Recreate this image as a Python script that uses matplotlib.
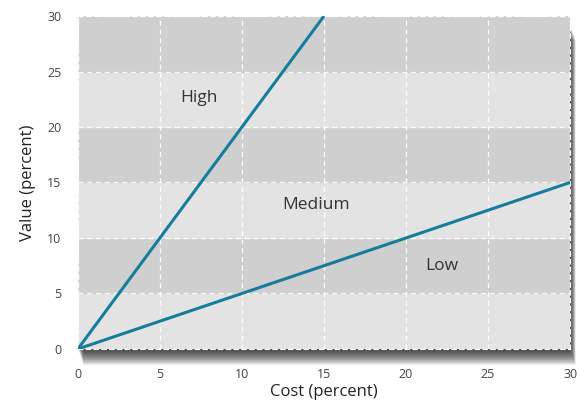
import matplotlib.pyplot as plt
from matplotlib.patches import Rectangle

plt.rcParams['font.family'] = ['Open Sans', 'DejaVu Sans']

# lines through the origin
high_x = [0, 15]
high_y = [0, 30]
low_x = [0, 30]
low_y = [0, 15]

band_edges = [0, 5, 10, 15, 20, 25, 30]
ticks = [0, 5, 10, 15, 20, 25, 30]
region_labels = ['High', 'Medium', 'Low']
region_pos = [(7.4, 22.6), (14.5, 13.0), (22.2, 7.5)]

fig = plt.figure(figsize=(5.77, 4.11), dpi=100)
fig.patch.set_facecolor('white')
box = [0.135, 0.151, 0.853, 0.810]
ax = fig.add_axes(box)
ax.set_zorder(2)

# soft drop shadow below the plot area, fading downwards
W, H = 577, 411
left, bottom = box[0] * W, box[1] * H
right = (box[0] + box[2]) * W
top = (box[1] + box[3]) * H
for i in range(16):
    d = i + 1
    fig.add_artist(Rectangle(((left + d * 0.35) / W, (bottom - d) / H),
                             (right - left) / W, (top - bottom - 8) / H,
                             transform=fig.transFigure, facecolor='#000000',
                             alpha=0.07, edgecolor='none', zorder=1))

for i in range(len(band_edges) - 1):
    col = '#e3e3e3' if i % 2 == 0 else '#cfcfcf'
    ax.axhspan(band_edges[i], band_edges[i + 1], color=col, zorder=0)

ax.set_xlim(0, 30)
ax.set_ylim(0, 30)
ax.set_xticks(ticks)
ax.set_yticks(ticks)
ax.grid(True, color='white', linestyle=(0, (4, 3)), linewidth=0.9, alpha=0.9)
ax.set_axisbelow(True)
for s in ax.spines.values():
    s.set_color('white')
    s.set_linestyle((0, (4, 3)))
    s.set_linewidth(0.8)
ax.tick_params(length=0, labelsize=9, colors='#444444')
ax.tick_params(axis='x', pad=14)
ax.tick_params(axis='y', pad=12)

ax.plot(high_x, high_y, color='#157d9c', linewidth=2.2, zorder=3, solid_capstyle='butt')
ax.plot(low_x, low_y, color='#157d9c', linewidth=2.2, zorder=3, solid_capstyle='butt')

for lab, (x, y) in zip(region_labels, region_pos):
    ax.text(x, y, lab, ha='center', va='center', fontsize=12.5, color='#333333')

ax.set_xlabel('Cost (percent)', fontsize=12, color='#222222', labelpad=2)
ax.set_ylabel('Value (percent)', fontsize=12, color='#222222', labelpad=8)

fig.savefig('out.png', dpi=100)
